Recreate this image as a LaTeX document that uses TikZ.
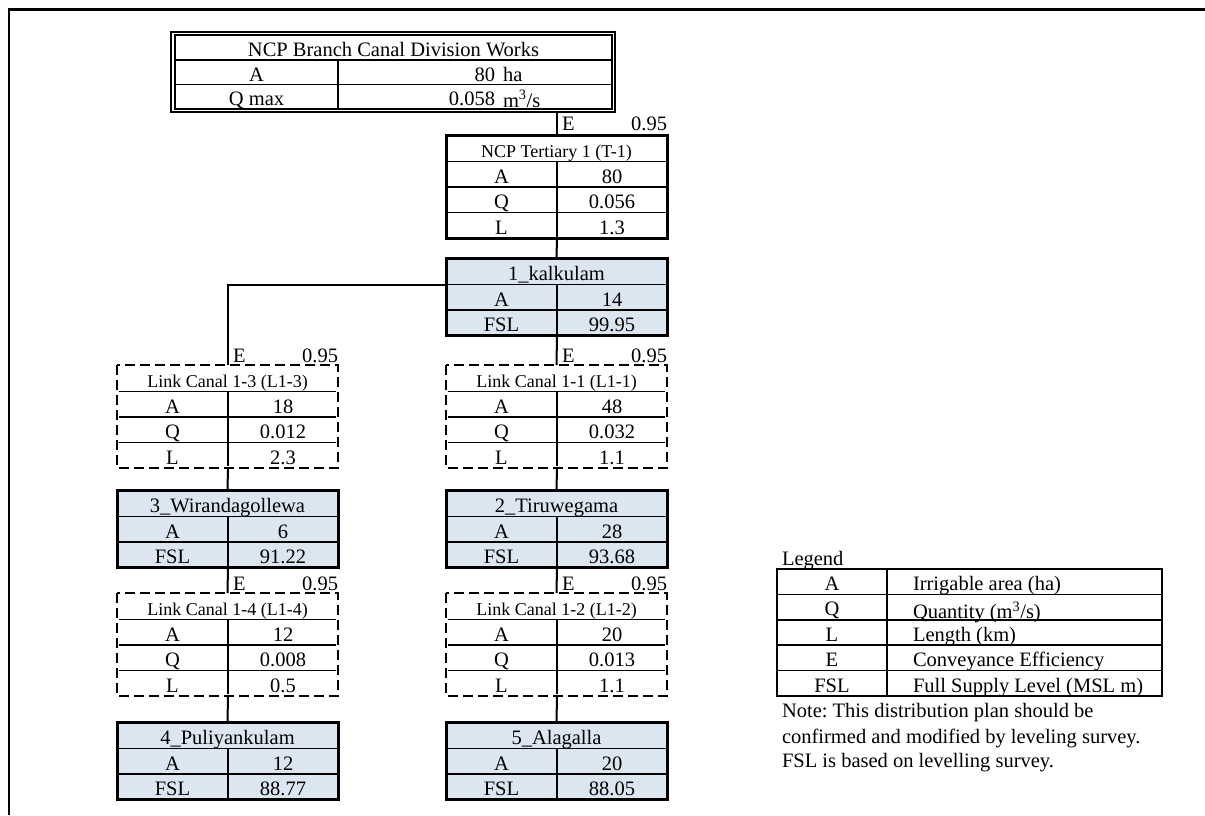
\documentclass[tikz,border=0pt]{standalone}
\usepackage{fontspec}
\setmainfont{Liberation Serif}
\usetikzlibrary{calc}
\definecolor{sitefill}{HTML}{DCE6F1}
\frenchspacing

\begin{document}
\begin{tikzpicture}[x=1pt, y=-1pt,
    every node/.style={inner sep=0pt, outer sep=0pt, font=\fontsize{20.5}{24}\selectfont,
        text height=18.5pt, text depth=1pt},
    cell/.style={draw, line width=1.6pt, minimum height=25.5pt, anchor=north west},
    head/.style={cell, minimum width=221pt, minimum height=26.5pt},
    key/.style={cell, minimum width=111pt},
    val/.style={cell, minimum width=110pt},
    site/.style={fill=sitefill},
    small/.style={font=\fontsize{18}{22}\selectfont},
    solidbox/.style={draw, line width=3pt},
    linkbox/.style={draw, line width=2.8pt, dash pattern=on 10pt off 5pt,
        preaction={draw, white, line width=3.4pt, solid}},
    link/.style={line width=2pt}]
    \useasboundingbox (0,0) rectangle (1205,815);
    \draw [line width=2.3pt] (1205,9.5) -- (9,9.5) -- (9,815);

    % division works
    \node (NCP) at (175,35) [cell, minimum width=437pt, minimum height=25pt] {NCP Branch Canal Division Works};
    \node (NCPa) at (NCP.south west) [cell, minimum width=163pt, minimum height=24.5pt] {A};
    \node (NCPav) at (NCPa.north east) [cell, minimum width=274pt, minimum height=24.5pt] {};
    \node (NCPq) at (NCPa.south west) [cell, minimum width=163pt, minimum height=24.5pt] {Q max};
    \node (NCPqv) at (NCPq.north east) [cell, minimum width=274pt, minimum height=24.5pt] {};
    \node (NCParea) at (495,81) [anchor=base east] {80};
    \node (NCPha) at (503,81) [anchor=base west] {ha};
    \node (NCPflow) at (495,105) [anchor=base east] {0.058};
    \node (NCPunit) at (503,107.5) [anchor=base west] {m\textsuperscript{3}/s};
    \draw [line width=2pt] (NCP.north west) rectangle (NCPqv.south east);
    \draw [line width=2pt] ($(NCP.north west)+(-4,-3)$) rectangle ($(NCPqv.south east)+(3,3)$);
    \coordinate (NCPout) at ($(NCPqv.south east)+(3,3)$);

    % tertiary
    \node (T1) at (446,135) [head, small] {NCP Tertiary 1 (T-1)};
    \node (T1a) at (T1.south west) [key] {A};
    \node (T1av) at (T1a.north east) [val] {80};
    \node (T1q) at (T1a.south west) [key] {Q};
    \node (T1qv) at (T1q.north east) [val] {0.056};
    \node (T1l) at (T1q.south west) [key] {L};
    \node (T1lv) at (T1l.north east) [val] {1.3};
    \draw [solidbox] (T1.north west) rectangle (T1lv.south east);
    \node (T1e) at ($(T1.north west)+(116,-5)$) [anchor=base west] {E};
    \node (T1f) at ($(T1.north east)+(0,-5)$) [anchor=base east] {0.95};

    % sites
    \node (K1) at (446,258) [head, site] {1\_kalkulam};
    \node (K1a) at (K1.south west) [key, site] {A};
    \node (K1av) at (K1a.north east) [val, site] {14};
    \node (K1f) at (K1a.south west) [key, site] {FSL};
    \node (K1fv) at (K1f.north east) [val, site] {99.95};
    \draw [solidbox] (K1.north west) rectangle (K1fv.south east);

    \node (K3) at (117,490) [head, site] {3\_Wirandagollewa};
    \node (K3a) at (K3.south west) [key, site] {A};
    \node (K3av) at (K3a.north east) [val, site] {6};
    \node (K3f) at (K3a.south west) [key, site] {FSL};
    \node (K3fv) at (K3f.north east) [val, site] {91.22};
    \draw [solidbox] (K3.north west) rectangle (K3fv.south east);

    \node (K2) at (446,490) [head, site] {2\_Tiruwegama};
    \node (K2a) at (K2.south west) [key, site] {A};
    \node (K2av) at (K2a.north east) [val, site] {28};
    \node (K2f) at (K2a.south west) [key, site] {FSL};
    \node (K2fv) at (K2f.north east) [val, site] {93.68};
    \draw [solidbox] (K2.north west) rectangle (K2fv.south east);

    \node (K4) at (117,722) [head, site] {4\_Puliyankulam};
    \node (K4a) at (K4.south west) [key, site] {A};
    \node (K4av) at (K4a.north east) [val, site] {12};
    \node (K4f) at (K4a.south west) [key, site] {FSL};
    \node (K4fv) at (K4f.north east) [val, site] {88.77};
    \draw [solidbox] (K4.north west) rectangle (K4fv.south east);

    \node (K5) at (446,722) [head, site] {5\_Alagalla};
    \node (K5a) at (K5.south west) [key, site] {A};
    \node (K5av) at (K5a.north east) [val, site] {20};
    \node (K5f) at (K5a.south west) [key, site] {FSL};
    \node (K5fv) at (K5f.north east) [val, site] {88.05};
    \draw [solidbox] (K5.north west) rectangle (K5fv.south east);

    % link canals
    \node (L13) at (117,365) [head, small] {Link Canal 1-3 (L1-3)};
    \node (L13a) at (L13.south west) [key] {A};
    \node (L13av) at (L13a.north east) [val] {18};
    \node (L13q) at (L13a.south west) [key] {Q};
    \node (L13qv) at (L13q.north east) [val] {0.012};
    \node (L13l) at (L13q.south west) [key] {L};
    \node (L13lv) at (L13l.north east) [val] {2.3};
    \draw [linkbox] (L13.north west) rectangle (L13lv.south east);
    \node (L13e) at ($(L13.north west)+(116,-3)$) [anchor=base west] {E};
    \node (L13f) at ($(L13.north east)+(0,-3)$) [anchor=base east] {0.95};

    \node (L11) at (446,365) [head, small] {Link Canal 1-1 (L1-1)};
    \node (L11a) at (L11.south west) [key] {A};
    \node (L11av) at (L11a.north east) [val] {48};
    \node (L11q) at (L11a.south west) [key] {Q};
    \node (L11qv) at (L11q.north east) [val] {0.032};
    \node (L11l) at (L11q.south west) [key] {L};
    \node (L11lv) at (L11l.north east) [val] {1.1};
    \draw [linkbox] (L11.north west) rectangle (L11lv.south east);
    \node (L11e) at ($(L11.north west)+(116,-3)$) [anchor=base west] {E};
    \node (L11f) at ($(L11.north east)+(0,-3)$) [anchor=base east] {0.95};

    \node (L14) at (117,593) [head, small] {Link Canal 1-4 (L1-4)};
    \node (L14a) at (L14.south west) [key] {A};
    \node (L14av) at (L14a.north east) [val] {12};
    \node (L14q) at (L14a.south west) [key] {Q};
    \node (L14qv) at (L14q.north east) [val] {0.008};
    \node (L14l) at (L14q.south west) [key] {L};
    \node (L14lv) at (L14l.north east) [val] {0.5};
    \draw [linkbox] (L14.north west) rectangle (L14lv.south east);
    \node (L14e) at ($(L14.north west)+(116,-3)$) [anchor=base west] {E};
    \node (L14f) at ($(L14.north east)+(0,-3)$) [anchor=base east] {0.95};

    \node (L12) at (446,593) [head, small] {Link Canal 1-2 (L1-2)};
    \node (L12a) at (L12.south west) [key] {A};
    \node (L12av) at (L12a.north east) [val] {20};
    \node (L12q) at (L12a.south west) [key] {Q};
    \node (L12qv) at (L12q.north east) [val] {0.013};
    \node (L12l) at (L12q.south west) [key] {L};
    \node (L12lv) at (L12l.north east) [val] {1.1};
    \draw [linkbox] (L12.north west) rectangle (L12lv.south east);
    \node (L12e) at ($(L12.north west)+(116,-3)$) [anchor=base west] {E};
    \node (L12f) at ($(L12.north east)+(0,-3)$) [anchor=base east] {0.95};

    % connections
    \draw [link] (T1.north) -- (T1.north |- NCPout);
    \draw [link] (T1l.south east) -- (K1.north);
    \draw [link] (K1a.north west) -| (L13.north);
    \draw [link] (K1f.south east) -- (L11.north);
    \draw [link] (L13l.south east) -- (K3.north);
    \draw [link] (L11l.south east) -- (K2.north);
    \draw [link] (K3f.south east) -- (L14.north);
    \draw [link] (K2f.south east) -- (L12.north);
    \draw [link] (L14l.south east) -- (K4.north);
    \draw [link] (L12l.south east) -- (K5.north);

    % legend
    \node (LEG) at (782,565) [anchor=base west] {Legend};
    \node (LEGa) at (777,569) [cell, minimum width=110pt, minimum height=25.4pt] {A};
    \node (LEGav) at (LEGa.north east) [cell, minimum width=275pt, minimum height=25.4pt] {\makebox[223pt][l]{Irrigable area (ha)}};
    \node (LEGq) at (LEGa.south west) [cell, minimum width=110pt, minimum height=25.4pt] {Q};
    \node (LEGqv) at (LEGq.north east) [cell, minimum width=275pt, minimum height=25.4pt] {\makebox[223pt][l]{\raisebox{-3pt}{Quantity (m\textsuperscript{3}/s)}}};
    \node (LEGl) at (LEGq.south west) [cell, minimum width=110pt, minimum height=25.4pt] {L};
    \node (LEGlv) at (LEGl.north east) [cell, minimum width=275pt, minimum height=25.4pt] {\makebox[223pt][l]{Length (km)}};
    \node (LEGe) at (LEGl.south west) [cell, minimum width=110pt, minimum height=25.4pt] {E};
    \node (LEGev) at (LEGe.north east) [cell, minimum width=275pt, minimum height=25.4pt] {\makebox[223pt][l]{Conveyance Efficiency}};
    \node (LEGf) at (LEGe.south west) [cell, minimum width=110pt, minimum height=25.4pt] {FSL};
    \node (LEGfv) at (LEGf.north east) [cell, minimum width=275pt, minimum height=25.4pt] {\makebox[223pt][l]{Full Supply Level (MSL m)}};
    \draw [line width=2pt] (LEGa.north west) rectangle (LEGfv.south east);

    \node (NOTE1) at (782,717) [anchor=base west] {Note: This distribution plan should be};
    \node (NOTE2) at (782,743) [anchor=base west] {confirmed and modified by leveling survey.};
    \node (NOTE3) at (782,767) [anchor=base west] {FSL is based on levelling survey.};
\end{tikzpicture}
\end{document}
